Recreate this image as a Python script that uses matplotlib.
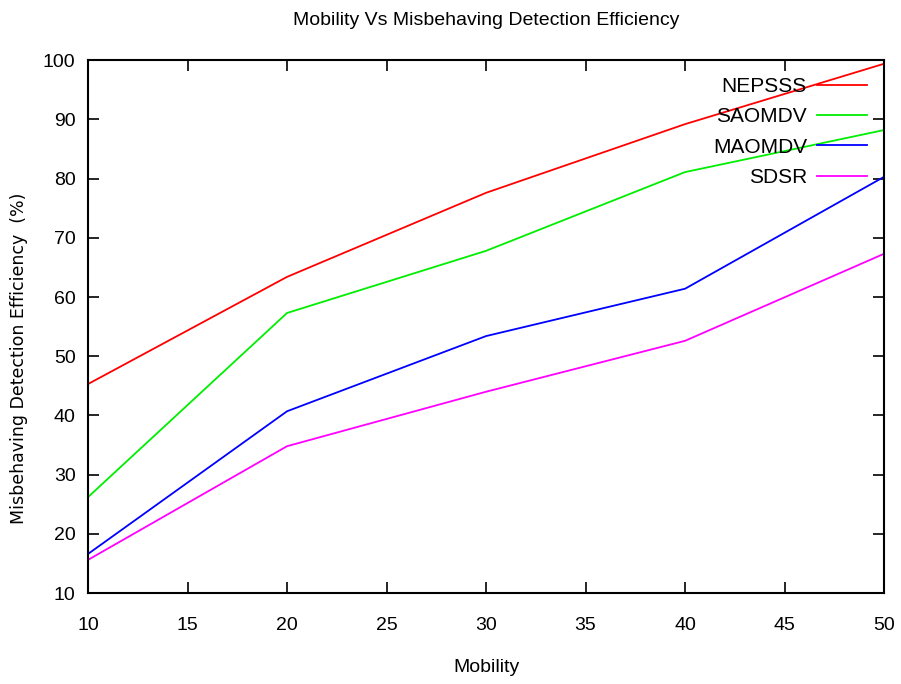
import matplotlib
matplotlib.use('Agg')
import matplotlib.pyplot as plt

# data
mobility = [10, 20, 30, 40, 50]
nepsss = [45.3, 63.4, 77.6, 89.2, 99.4]
saomdv = [26.2, 57.3, 67.8, 81.1, 88.2]
maomdv = [16.6, 40.7, 53.4, 61.4, 80.3]
sdsr = [15.6, 34.8, 44.0, 52.6, 67.3]

series = [
    ('NEPSSS', nepsss, '#ff0000'),
    ('SAOMDV', saomdv, '#00ee00'),
    ('MAOMDV', maomdv, '#0000ff'),
    ('SDSR', sdsr, '#ff00ff'),
]

plt.rcParams['font.family'] = ['Liberation Sans', 'DejaVu Sans']

fig = plt.figure(figsize=(9.01, 6.84), dpi=100)
ax = fig.add_axes([0.0977, 0.133, 0.8835, 0.779])

for name, vals, color in series:
    ax.plot(mobility, vals, color=color, linewidth=1.3, label=name)

ax.set_xlim(10, 50)
ax.set_ylim(10, 100)
ax.set_xticks(range(10, 51, 5))
ax.set_yticks(range(10, 101, 10))
ax.tick_params(direction='in', top=True, right=True, length=8, width=1.2,
               labelsize=14)
ax.tick_params(axis='x', pad=17)
ax.tick_params(axis='y', pad=9)
for s in ax.spines.values():
    s.set_linewidth(1.5)

ax.set_title('Mobility Vs Misbehaving Detection Efficiency', fontsize=14, pad=25)
ax.set_xlabel('Mobility', fontsize=14, labelpad=18)
ax.set_ylabel('Misbehaving Detection Efficiency  (%)', fontsize=12.5,
              family=['DejaVu Sans'])
ax.yaxis.set_label_coords(-0.076, 0.44)

leg = ax.legend(loc='upper right', frameon=False, markerfirst=False, fontsize=15,
                handlelength=2.4, labelspacing=0.55, borderaxespad=0.4,
                handletextpad=0.5)

fig.savefig('out.png', dpi=100)
